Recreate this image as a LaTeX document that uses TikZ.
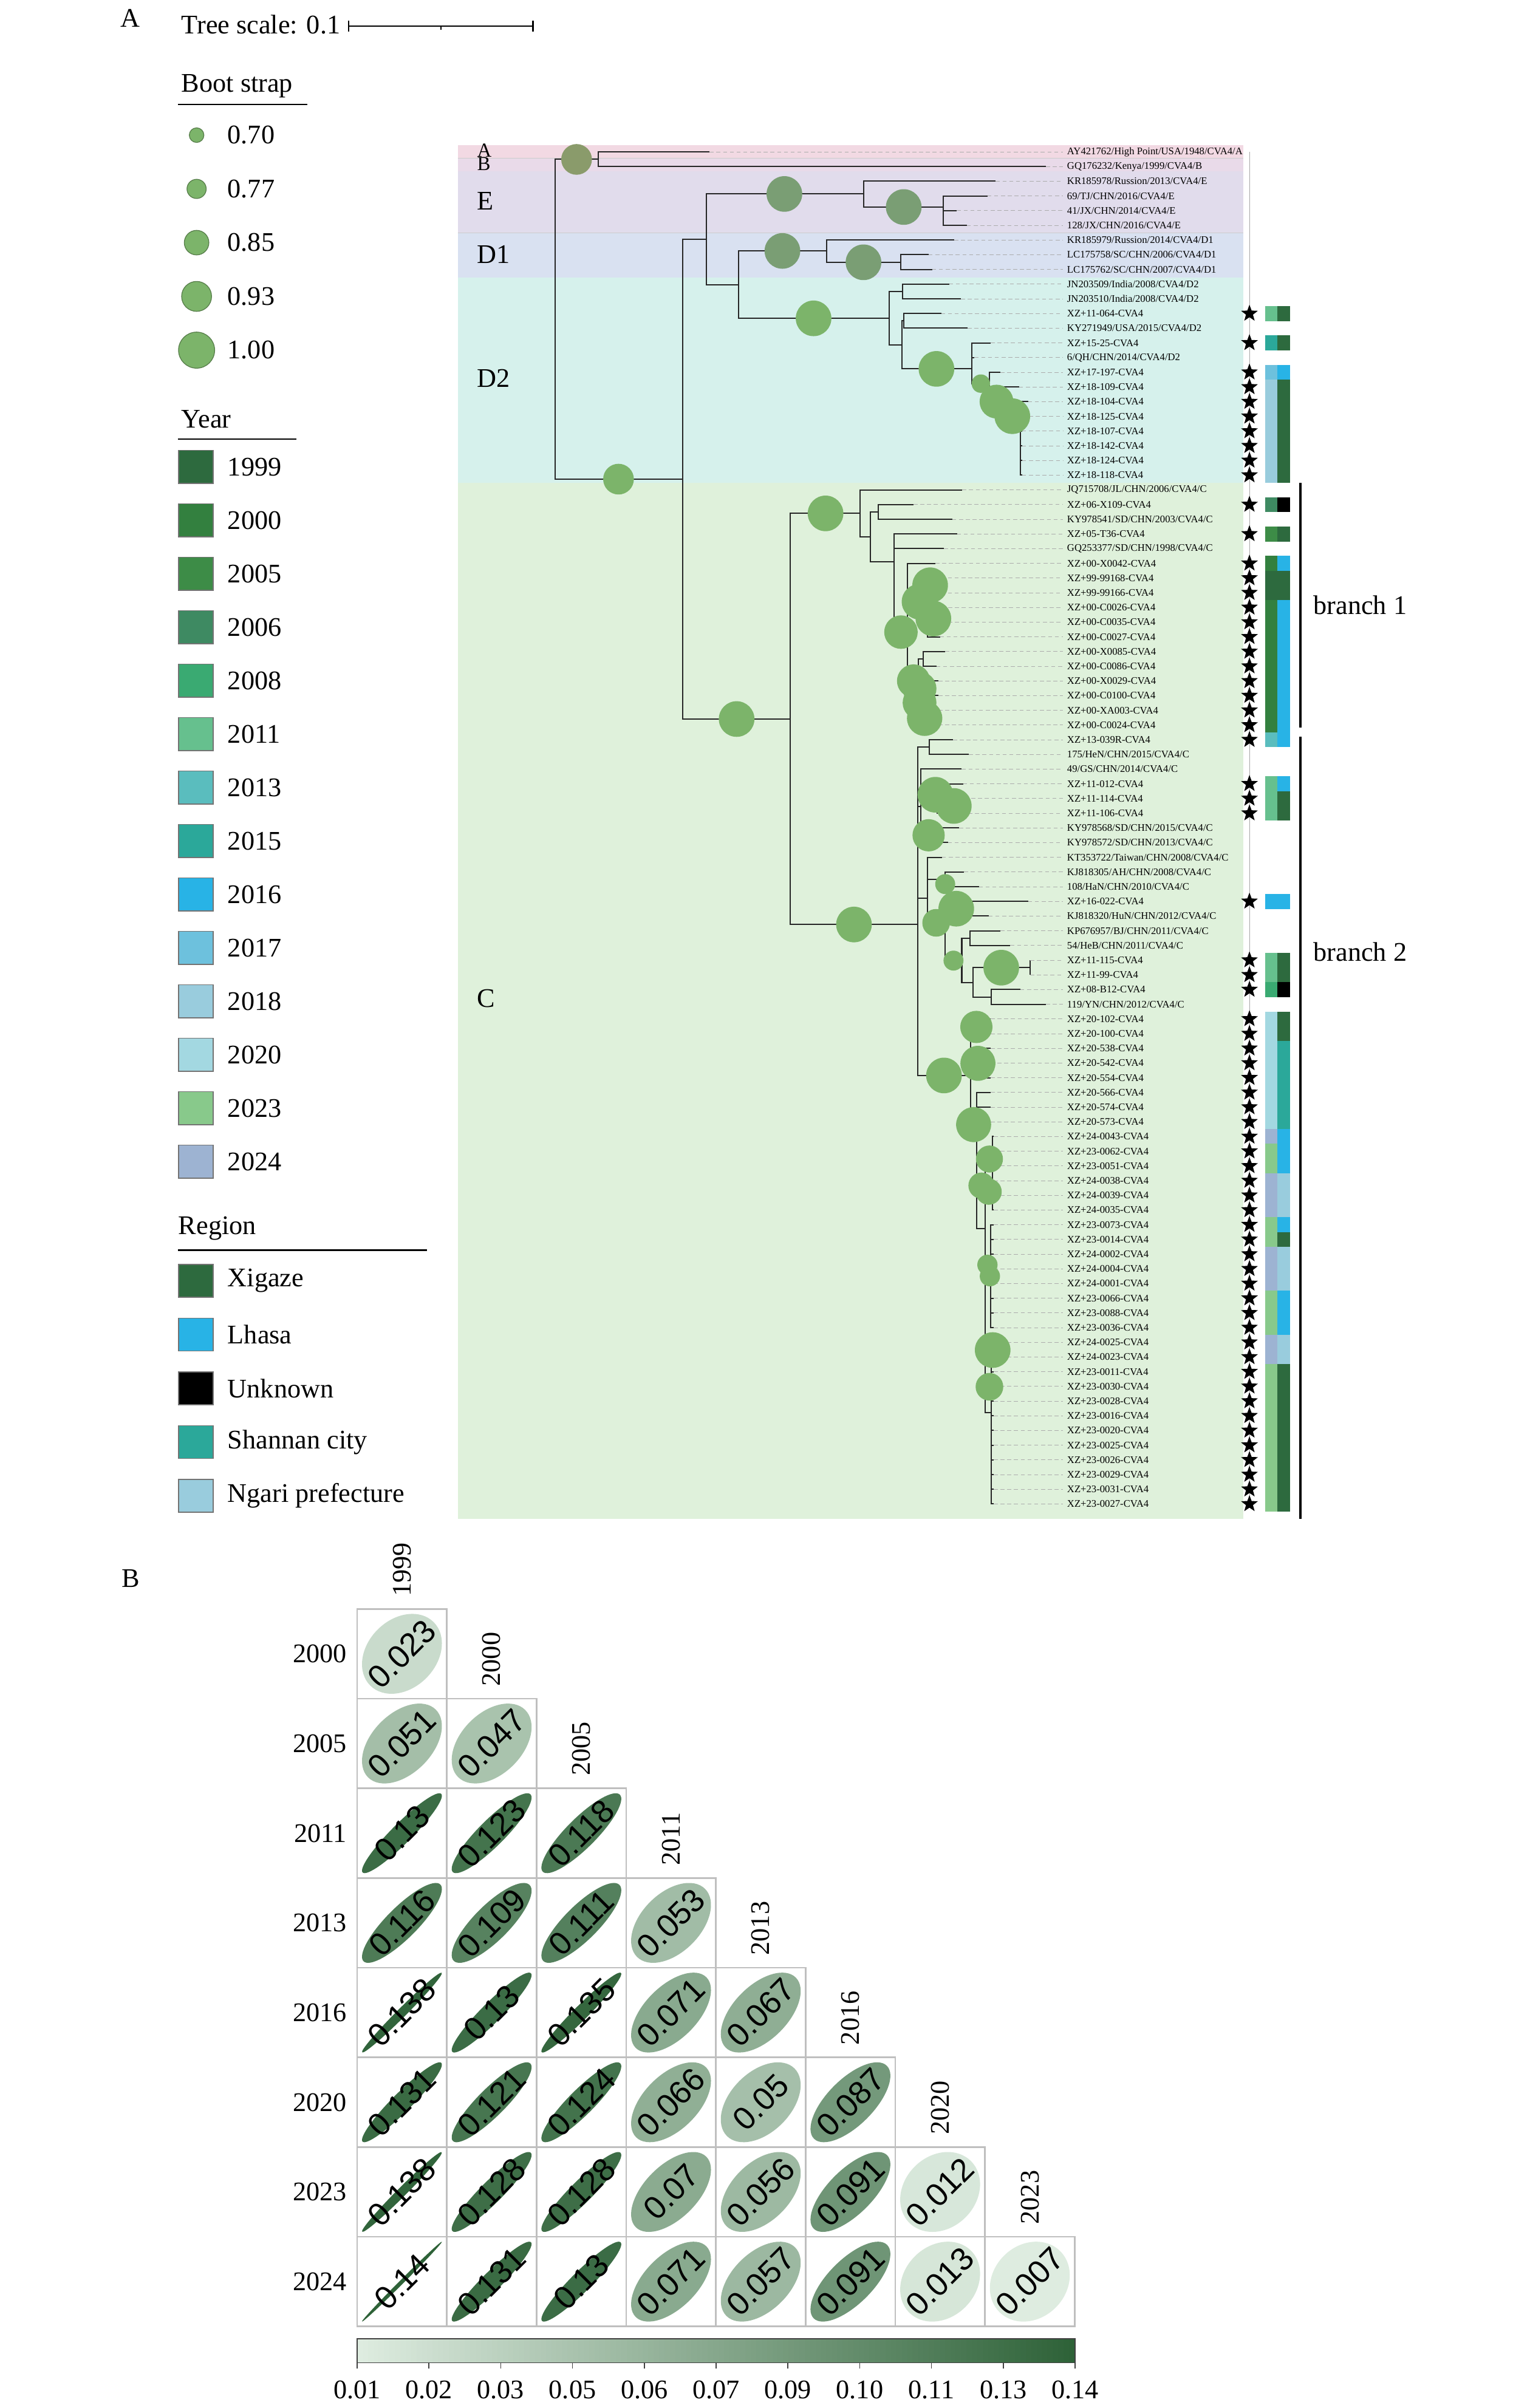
\documentclass[tikz,border=0pt]{standalone}
\usepackage{fontspec}
\setmainfont{Liberation Serif}
\newfontfamily\hmsans{Liberation Sans}
\usepackage{xcolor}
\usetikzlibrary{shapes.geometric,positioning}

\definecolor{yc1999}{HTML}{2D6A3E}
\definecolor{yc2000}{HTML}{33803F}
\definecolor{yc2005}{HTML}{3D8C47}
\definecolor{yc2006}{HTML}{3E8A62}
\definecolor{yc2008}{HTML}{3AAA72}
\definecolor{yc2011}{HTML}{66C08E}
\definecolor{yc2013}{HTML}{5ABDBE}
\definecolor{yc2015}{HTML}{2BA89A}
\definecolor{yc2016}{HTML}{28B3E6}
\definecolor{yc2017}{HTML}{6DC1DD}
\definecolor{yc2018}{HTML}{99CCDD}
\definecolor{yc2020}{HTML}{A3D8E1}
\definecolor{yc2023}{HTML}{88C98B}
\definecolor{yc2024}{HTML}{9DB3D2}
\definecolor{rcX}{HTML}{2D6A3E}
\definecolor{rcL}{HTML}{28B3E6}
\definecolor{rcU}{HTML}{000000}
\definecolor{rcS}{HTML}{2BA89A}
\definecolor{rcN}{HTML}{99CCDD}
\definecolor{bandA}{HTML}{F2D9E3}
\definecolor{bandB}{HTML}{E9DAE9}
\definecolor{bandE}{HTML}{E1DCEC}
\definecolor{bandD1}{HTML}{D9E1F1}
\definecolor{bandD2}{HTML}{D6F1EC}
\definecolor{bandC}{HTML}{DFF1DB}
\definecolor{bootg}{HTML}{7CB46A}
\definecolor{bootdk}{HTML}{7A9E74}
\definecolor{bootab}{HTML}{8A9B6B}
\definecolor{hmlow}{HTML}{DEECE0}
\definecolor{hmhigh}{HTML}{2E6238}

\newcommand{\lgfont}{\fontsize{17.5}{20}\selectfont}
\newcommand{\leaffont}{\fontsize{6.6}{7}\selectfont}
\newcommand{\hmfont}{\hmsans\fontsize{21}{23}\selectfont}
\newcommand{\hmcol}[1]{%
  \pgfmathsetmacro{\hmp}{max(0,min(1,((#1)-0.007)/0.133))}%
  \pgfmathsetmacro{\hmq}{100*\hmp}%
  \pgfmathsetmacro{\hmr}{0.16+0.84*\hmp}%
  \colorlet{hmfill}{hmhigh!\hmq!hmlow}}

\begin{document}
\begin{tikzpicture}[x=1pt,y=-1pt,
  lgtext/.style={font=\lgfont,inner sep=0,anchor=west},
  leaf/.style={font=\leaffont,inner sep=0,anchor=west,text=black},
  branch/.style={line width=0.8pt,black!85},
  leader/.style={gray!65,line width=0.35pt,dash pattern=on 2.6pt off 1.8pt,shorten >=2.6pt},
  boot/.style={circle,inner sep=0},
  bootlg/.style={circle,fill=bootg,draw=bootg!70!black,line width=0.5pt,inner sep=0},
  starmark/.style={star,star points=5,star point ratio=2.4,fill=black,inner sep=0,minimum size=11.5},
  barcell/.style={rectangle,inner sep=0,minimum width=8.1,minimum height=9.75},
  swatch/.style={rectangle,draw=black!55,line width=0.6pt,inner sep=0,minimum width=22.5,minimum height=21.5},
  hmcell/.style={rectangle,draw=black!25,line width=1.1pt,inner sep=0,minimum size=58.4},
  hmell/.style={ellipse,inner sep=0,rotate=45},
  hmval/.style={font=\hmfont,inner sep=0,rotate=45},
  hmlabel/.style={font=\lgfont,inner sep=0}]
\fill[white] (0,0) rectangle (996,1568);
\useasboundingbox (0,0) rectangle (996,1568);

% panel A: scale and legends
\node[font=\lgfont] (panA) at (85,12) {A};
\node[lgtext] (tscale) at (118,16) {Tree scale: 0.1};
\coordinate (sb1) at (227,17);
\coordinate (sbm) at (287,17);
\coordinate (sb2) at (347,17);
\draw[line width=0.9pt] (sb1) -- (sb2);
\draw[line width=0.9pt] ([yshift=3.5pt]sb1) -- ([yshift=-3.5pt]sb1) ([yshift=3.5pt]sb2) -- ([yshift=-3.5pt]sb2);
\draw[line width=0.9pt] (sbm) -- ++(0,2.5);

\node[lgtext] (hboot) at (118,56) {Boot strap};
\draw[line width=0.9pt] (116,68) -- (200,68);
\foreach \bv/\bd [count=\i] in {0.70/9.5,0.77/12.5,0.85/16,0.93/19.5,1.00/23.5}{
  \node[bootlg,minimum size=\bd] (lb\i) at (128,{88+(\i-1)*35}) {};
  \node[lgtext] (lbt\i) at (148,{88+(\i-1)*35}) {\bv};
}
\node[lgtext] (hyear) at (118,273) {Year};
\draw[line width=0.9pt] (116,286) -- (193,286);
\foreach \yr [count=\i] in {1999,2000,2005,2006,2008,2011,2013,2015,2016,2017,2018,2020,2023,2024}{
  \node[swatch,fill=yc\yr] (ly\i) at (127.5,{304+(\i-1)*34.8}) {};
  \node[lgtext,right=9pt of ly\i] (lyt\i) {\yr};
}
\node[lgtext] (hreg) at (116,800) {Region};
\draw[line width=0.9pt] (116,814) -- (278,814);
\foreach \rg/\rn [count=\i] in {X/Xigaze,L/Lhasa,U/Unknown,S/Shannan city,N/Ngari prefecture}{
  \node[swatch,fill=rc\rg] (lr\i) at (127.5,{834+(\i-1)*35}) {};
  \node[lgtext,right=9pt of lr\i] (lrt\i) {\rn};
}

% clade bands
\fill[bandA] (298,94.6) rectangle (809.3,102.9);
\fill[bandB] (298,102.9) rectangle (809.3,111.4);
\fill[bandE] (298,111.4) rectangle (809.3,151.7);
\fill[bandD1] (298,151.7) rectangle (809.3,180.9);
\fill[bandD2] (298,180.9) rectangle (809.3,314.2);
\fill[bandC] (298,314.2) rectangle (809.3,989.2);
\draw[black!20,line width=0.4pt] (298,102.9) -- (809.3,102.9) (298,151.7) -- (809.3,151.7);
\node[lgtext,font=\fontsize{13}{13}\selectfont] (cA) at (310.5,97.8) {A};
\node[lgtext,font=\fontsize{13}{13}\selectfont] (cB) at (310.5,106.8) {B};
\node[lgtext] (cE) at (310.5,131) {E};
\node[lgtext] (cD1) at (310.5,165.5) {D1};
\node[lgtext] (cD2) at (310.5,246.5) {D2};
\node[lgtext] (cC) at (310.5,650.3) {C};

% leaves
\foreach \tx [count=\i] in {462,681,648.3,642.9,623,629.5,621.3,604.6,606.9,618,625.7,612.8,630,645,634.5,651.4,663.5,669.4,665.5,665.5,665.5,665.5,665.5,
  626.5,594.8,620,623.1,614.6,609,612.8,612.8,613,613,612,615.4,609.7,611,611,611,611,
  620.5,630.8,626.2,627,628,626,624.4,617.2,613.3,627.7,637.3,669.4,643.7,651.4,657.8,670.7,670.7,664.3,681,
  645,645,645,645,645,645,645,645,
  647,647,647,647,647,647,647,647,647,647,647,647,647,647,647,647,647,647,647,647,647,647,647,647,647,647}
  \coordinate (t\i) at (\tx,{98.9+(\i-1)*9.57});

\foreach \nm/\nx/\ny in {r/361.5/208,nAB/389.6/103.8,nBig/444.4/312,nED/459.8/156,nE/562.2/126.3,nE2/614.1/134.8,
  nD/480.9/185.6,nD1/538.2/163.4,nD1b/586.3/170.8,nD2/578.9/207.3,nD2a/587.6/189.8,nD2b/587.1/224.6,nD2c/588.4/208.9,
  nD2d/632.9/240.2,nD2e/644.3/249.8,nD2f/653.3/261.5,nD2g/664.2/271,
  nC/514.6/468.2,nC1/560.1/334.3,nC1a/566.8/349.7,nC1b/572/333.5,nC1c/582.2/365.9,nC1d/590.9/411.6,
  nX1/604/386.1,nX2/598/448.4,nX3/601.2/429.1,
  nC2/597.4/602,nF1/605.1/486.6,nF2/599.4/525,nF3/610/520.2,nF4/608/544.7,nF5/603.8/585,
  nG1/615.4/572.7,nG2/615.4/600.9,nG3/630/591.7,nG4/626.2/625.5,nG5/631.6/610.9,nG6/633.4/640,nG7/670.7/630.1,nG8/645.5/649.2,
  nH/632.1/700.3,nH1/639.3/668,nH2/641.3/692,nH3/635.7/732.3,nI/641.6/800,nI1/646/754.5,nI2/646/778,nI3/645/830,nI4/645.5/920}
  \coordinate (\nm) at (\nx,\ny);

\foreach \p/\kids in {r/{nAB,nBig},nAB/{t1,t2},nBig/{nED,nC},nED/{nE,nD},nE/{t3,nE2},nE2/{t4,t5,t6},
  nD/{nD1,nD2},nD1/{t7,nD1b},nD1b/{t8,t9},nD2/{nD2a,nD2b},nD2a/{t10,t11},nD2b/{nD2c,nD2d},nD2c/{t12,t13},
  nD2d/{t14,t15,nD2e},nD2e/{t16,nD2f},nD2f/{t17,nD2g},nD2g/{t18,t19,t20,t21,t22,t23},
  nC/{nC1,nC2},nC1/{t24,nC1a},nC1a/{nC1b,nC1c},nC1b/{t25,t26},nC1c/{t27,t28,nC1d},nC1d/{t29,nX1,nX2},
  nX1/{t30,t31,t32,t33,t34},nX2/{nX3,t37,t38,t39,t40},nX3/{t35,t36},
  nC2/{nF1,nF2,nF5,nH},nF1/{t41,t42},nF2/{t43,nF3,nF4},nF3/{t44,t45,t46},nF4/{t47,t48},
  nF5/{t49,nG1,nG2},nG1/{t50,t51},nG2/{nG3,nG4},nG3/{t52,t53},nG4/{nG5,nG6},nG5/{t54,t55},
  nG6/{nG7,nG8},nG7/{t56,t57},nG8/{t58,t59},
  nH/{nH1,nH2,nH3},nH1/{t60,t61},nH2/{t62,t63,t64},nH3/{t65,t66,t67,nI},nI/{nI1,nI2,nI3,nI4},
  nI1/{t68,t69,t70,t71},nI2/{t72,t73},nI3/{t74,t75,t76,t77,t78,t79,t80,t81},
  nI4/{t82,t83,t84,t85,t86,t87,t88,t89,t90,t91,t92,t93}}
  \foreach \ch in \kids \draw[branch] (\p) |- (\ch);

\foreach \lab [count=\i] in {AY421762/High Point/USA/1948/CVA4/A,GQ176232/Kenya/1999/CVA4/B,
  KR185978/Russion/2013/CVA4/E,69/TJ/CHN/2016/CVA4/E,41/JX/CHN/2014/CVA4/E,128/JX/CHN/2016/CVA4/E,
  KR185979/Russion/2014/CVA4/D1,LC175758/SC/CHN/2006/CVA4/D1,LC175762/SC/CHN/2007/CVA4/D1,
  JN203509/India/2008/CVA4/D2,JN203510/India/2008/CVA4/D2,XZ+11-064-CVA4,KY271949/USA/2015/CVA4/D2,
  XZ+15-25-CVA4,6/QH/CHN/2014/CVA4/D2,XZ+17-197-CVA4,XZ+18-109-CVA4,XZ+18-104-CVA4,XZ+18-125-CVA4,
  XZ+18-107-CVA4,XZ+18-142-CVA4,XZ+18-124-CVA4,XZ+18-118-CVA4,
  JQ715708/JL/CHN/2006/CVA4/C,XZ+06-X109-CVA4,KY978541/SD/CHN/2003/CVA4/C,XZ+05-T36-CVA4,
  GQ253377/SD/CHN/1998/CVA4/C,XZ+00-X0042-CVA4,XZ+99-99168-CVA4,XZ+99-99166-CVA4,XZ+00-C0026-CVA4,
  XZ+00-C0035-CVA4,XZ+00-C0027-CVA4,XZ+00-X0085-CVA4,XZ+00-C0086-CVA4,XZ+00-X0029-CVA4,
  XZ+00-C0100-CVA4,XZ+00-XA003-CVA4,XZ+00-C0024-CVA4,XZ+13-039R-CVA4,175/HeN/CHN/2015/CVA4/C,
  49/GS/CHN/2014/CVA4/C,XZ+11-012-CVA4,XZ+11-114-CVA4,XZ+11-106-CVA4,KY978568/SD/CHN/2015/CVA4/C,
  KY978572/SD/CHN/2013/CVA4/C,KT353722/Taiwan/CHN/2008/CVA4/C,KJ818305/AH/CHN/2008/CVA4/C,
  108/HaN/CHN/2010/CVA4/C,XZ+16-022-CVA4,KJ818320/HuN/CHN/2012/CVA4/C,KP676957/BJ/CHN/2011/CVA4/C,
  54/HeB/CHN/2011/CVA4/C,XZ+11-115-CVA4,XZ+11-99-CVA4,XZ+08-B12-CVA4,119/YN/CHN/2012/CVA4/C,
  XZ+20-102-CVA4,XZ+20-100-CVA4,XZ+20-538-CVA4,XZ+20-542-CVA4,XZ+20-554-CVA4,XZ+20-566-CVA4,
  XZ+20-574-CVA4,XZ+20-573-CVA4,XZ+24-0043-CVA4,XZ+23-0062-CVA4,XZ+23-0051-CVA4,XZ+24-0038-CVA4,
  XZ+24-0039-CVA4,XZ+24-0035-CVA4,XZ+23-0073-CVA4,XZ+23-0014-CVA4,XZ+24-0002-CVA4,XZ+24-0004-CVA4,
  XZ+24-0001-CVA4,XZ+23-0066-CVA4,XZ+23-0088-CVA4,XZ+23-0036-CVA4,XZ+24-0025-CVA4,XZ+24-0023-CVA4,
  XZ+23-0011-CVA4,XZ+23-0030-CVA4,XZ+23-0028-CVA4,XZ+23-0016-CVA4,XZ+23-0020-CVA4,XZ+23-0025-CVA4,
  XZ+23-0026-CVA4,XZ+23-0029-CVA4,XZ+23-0031-CVA4,XZ+23-0027-CVA4}{
  \node[leaf] (l\i) at (694.6,{98.9+(\i-1)*9.57}) {\lab};
  \draw[leader] (t\i) -- (l\i.west);
}

% bootstrap support
\foreach \bx/\by/\br/\bc [count=\i] in {375.4/103.8/10/bootab,402.7/312/10/bootg,
  510.7/126.3/11.6/bootdk,588.4/134.8/11.6/bootdk,509.4/163.4/11.6/bootdk,562.2/170.8/11.6/bootdk,
  529.7/207.3/11.6/bootg,609.7/240.2/11.6/bootg,638.6/249.8/6/bootg,648.8/261.5/11/bootg,659.1/271/11.6/bootg,
  479.6/468.2/11.6/bootg,537.5/334.3/11.6/bootg,
  605.6/381.1/11.6/bootg,598.7/391.8/11.6/bootg,607.7/402.8/11.6/bootg,586.6/411.6/10.9/bootg,
  594.8/443.4/10.8/bootg,598.7/448.4/11/bootg,598.7/457.6/11/bootg,602/467.7/11.5/bootg,
  556/602/11.6/bootg,609/517.5/11.6/bootg,621/524.8/11.6/bootg,604.6/543.9/10.5/bootg,615.4/575.7/6.5/bootg,
  622.6/591.7/11.6/bootg,609.5/600.9/9/bootg,620.8/625.5/6.5/bootg,651.9/630.1/11.6/bootg,
  614.6/700.3/11.6/bootg,635.7/668.7/10.5/bootg,636.7/692.4/11.4/bootg,633.9/732.3/11.4/bootg,
  644.2/754.7/8.8/bootg,639/772/8.5/bootg,643.7/776/8.5/bootg,642.9/823.6/6.6/bootg,644.5/831/6.6/bootg,
  646.3/879.1/11.6/bootg,644.2/903/9/bootg}
  \node[boot,fill=\bc,minimum size=2*\br] (bs\i) at (\bx,\by) {};

% stars and colour strips
\coordinate (sl1) at (813.5,98.9);
\coordinate (sl2) at (813.5,979.3);
\draw[gray!70,line width=0.4pt] (sl1) -- (sl2);
\foreach \i/\yr/\rg in {12/2011/X,14/2015/X,16/2017/L,17/2018/X,18/2018/X,19/2018/X,20/2018/X,21/2018/X,22/2018/X,23/2018/X,
  25/2006/U,27/2005/X,29/2000/L,30/1999/X,31/1999/X,32/2000/L,33/2000/L,34/2000/L,35/2000/L,36/2000/L,37/2000/L,
  38/2000/L,39/2000/L,40/2000/L,41/2013/L,44/2011/L,45/2011/X,46/2011/X,52/2016/L,56/2011/X,57/2011/X,58/2008/U,
  60/2020/X,61/2020/X,62/2020/S,63/2020/S,64/2020/S,65/2020/S,66/2020/S,67/2020/S,68/2024/L,69/2023/L,70/2023/L,
  71/2024/N,72/2024/N,73/2024/N,74/2023/L,75/2023/X,76/2024/N,77/2024/N,78/2024/N,79/2023/L,80/2023/L,81/2023/L,
  82/2024/N,83/2024/N,84/2023/X,85/2023/X,86/2023/X,87/2023/X,88/2023/X,89/2023/X,90/2023/X,91/2023/X,92/2023/X,93/2023/X}{
  \node[starmark] (s\i) at (813.5,{98.9+(\i-1)*9.57}) {};
  \node[barcell,fill=yc\yr] (cy\i) at (827.6,{98.9+(\i-1)*9.57}) {};
  \node[barcell,fill=rc\rg] (cr\i) at (835.7,{98.9+(\i-1)*9.57}) {};
}
\coordinate (b1a) at (846.8,314.4);
\coordinate (b1b) at (846.8,473.8);
\coordinate (b2a) at (846.8,479.7);
\coordinate (b2b) at (846.8,989.2);
\draw[line width=1.6pt] (b1a) -- (b1b);
\draw[line width=1.6pt] (b2a) -- (b2b);
\node[lgtext] (br1) at (855,394) {branch 1};
\node[lgtext] (br2) at (855,620) {branch 2};

% panel B: distance matrix
\node[font=\lgfont] (panB) at (85,1028) {B};
\foreach \row/\rl/\vals in {1/2000/{0.023},2/2005/{0.051,0.047},3/2011/{0.13,0.123,0.118},
  4/2013/{0.116,0.109,0.111,0.053},5/2016/{0.138,0.13,0.135,0.071,0.067},
  6/2020/{0.131,0.121,0.124,0.066,0.05,0.087},7/2023/{0.138,0.128,0.128,0.07,0.056,0.091,0.012},
  8/2024/{0.14,0.131,0.13,0.071,0.057,0.091,0.013,0.007}}{
  \node[hmlabel,anchor=east] (rl\row) at (226,{1047.7+(\row-0.5)*58.4}) {\rl};
  \foreach \v [count=\col] in \vals {
    \hmcol{\v}
    \node[hmcell] (h\row\col) at ({232.5+(\col-0.5)*58.4},{1047.7+(\row-0.5)*58.4}) {};
    \node[hmell,fill=hmfill,minimum width={52*sqrt(1+\hmr)},minimum height={max(2.6,52*sqrt(1-\hmr))}] (e\row\col) at (h\row\col) {};
    \node[hmval] (v\row\col) at (h\row\col) {\v};
  }
}
\foreach \col/\cl in {1/1999,2/2000,3/2005,4/2011,5/2013,6/2016,7/2020,8/2023}
  \node[hmlabel,rotate=90,anchor=west] (cl\col) at ({232.5+(\col-0.5)*58.4},{1047.7+(\col-1)*58.4-8}) {\cl};

\foreach \k in {0,...,132}{
  \hmcol{0.007+\k*0.001}
  \fill[hmfill] ({232.5+\k*3.511},1523) rectangle ({232.5+(\k+1)*3.511+0.3},1538.6);
}
\draw[black!75,line width=0.6pt] (232.5,1523) rectangle (700,1538.6);
\foreach \t [count=\i] in {0.01,0.02,0.03,0.05,0.06,0.07,0.09,0.10,0.11,0.13,0.14}{
  \node[hmlabel] (tk\i) at ({232.5+(\i-1)*46.75},1556) {\t};
  \draw[black!75,line width=0.6pt] ({232.5+(\i-1)*46.75},1538.6) -- ++(0,3.5);
}
\end{tikzpicture}
\end{document}
